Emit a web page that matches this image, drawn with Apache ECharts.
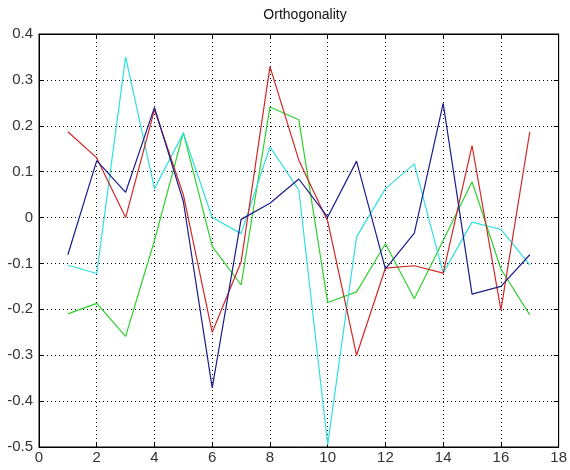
<!DOCTYPE html>
<html>
<head>
<meta charset="utf-8">
<script src="https://cdn.jsdelivr.net/npm/echarts@6/dist/echarts.min.js"></script>
<style>html,body{margin:0;padding:0;background:#fff}#c{width:570px;height:470px}</style>
</head>
<body>
<div id="c"></div>
<script>
var xValues = [1,2,3,4,5,6,7,8,9,10,11,12,13,14,15,16,17];
var redValues = [0.187,0.13,0.0,0.235,0.05,-0.25,-0.097,0.329,0.125,-0.008,-0.3,-0.11,-0.105,-0.121,0.157,-0.201,0.187];
var blueValues = [-0.081,0.124,0.055,0.24,0.035,-0.371,-0.004,0.031,0.084,0.001,0.123,-0.112,-0.034,0.249,-0.167,-0.15,-0.081];
var cyanValues = [-0.104,-0.122,0.35,0.063,0.184,0.0,-0.035,0.154,0.06,-0.495,-0.042,0.063,0.117,-0.121,-0.01,-0.026,-0.103];
var greenValues = [-0.21,-0.187,-0.259,-0.05,0.185,-0.063,-0.147,0.241,0.213,-0.185,-0.162,-0.057,-0.177,-0.05,0.078,-0.112,-0.212];
var titleText = 'Orthogonality';

function pairs(v){ return xValues.map(function(x,i){ return [x, v[i]]; }); }
var font = '"Liberation Sans", Arial, sans-serif';
var chart = echarts.init(document.getElementById('c'));
function mk(name, color, vals){
  return {name:name,type:'line',data:pairs(vals),symbol:'none',lineStyle:{color:color,width:1.2},itemStyle:{color:color},animation:false};
}
chart.setOption({
  backgroundColor:'#fff',
  animation:false,
  title:{text:titleText,left:300,top:3,textAlign:'center',textStyle:{fontFamily:font,fontSize:14,fontWeight:'normal',color:'#111'}},
  grid:{left:39,right:8,top:34,bottom:23,show:true,borderColor:'#000',borderWidth:1,backgroundColor:'transparent'},
  xAxis:[{type:'value',min:0,max:18,interval:2,position:'bottom',
    axisLine:{show:true,onZero:false,lineStyle:{color:'#000'}},
    axisTick:{show:true,inside:true,length:5,lineStyle:{color:'#000'}},
    axisLabel:{fontFamily:font,fontSize:15,color:'#333',margin:3},
    splitLine:{show:true,lineStyle:{type:[1,3],color:'#000'}}},
    {type:'value',min:0,max:18,interval:2,position:'top',
    axisLine:{show:true,onZero:false,lineStyle:{color:'#000'}},
    axisTick:{show:true,inside:true,length:5,lineStyle:{color:'#000'}},
    axisLabel:{show:false},splitLine:{show:false}}],
  yAxis:[{type:'value',min:-0.5,max:0.4,interval:0.1,position:'left',
    axisLine:{show:true,onZero:false,lineStyle:{color:'#000'}},
    axisTick:{show:true,inside:true,length:5,lineStyle:{color:'#000'}},
    axisLabel:{fontFamily:font,fontSize:15,color:'#333',margin:6,formatter:function(v){return String(Math.round(v*10)/10);}},
    splitLine:{show:true,lineStyle:{type:[1,3],color:'#000'}}},
    {type:'value',min:-0.5,max:0.4,interval:0.1,position:'right',
    axisLine:{show:true,onZero:false,lineStyle:{color:'#000'}},
    axisTick:{show:true,inside:true,length:5,lineStyle:{color:'#000'}},
    axisLabel:{show:false},splitLine:{show:false}}],
  series:[
    mk('green','#30d030',greenValues),
    mk('cyan','#30e0e0',cyanValues),
    mk('red','#d02828',redValues),
    mk('blue','#1c1c8a',blueValues)
  ]
});
</script>
</body>
</html>
